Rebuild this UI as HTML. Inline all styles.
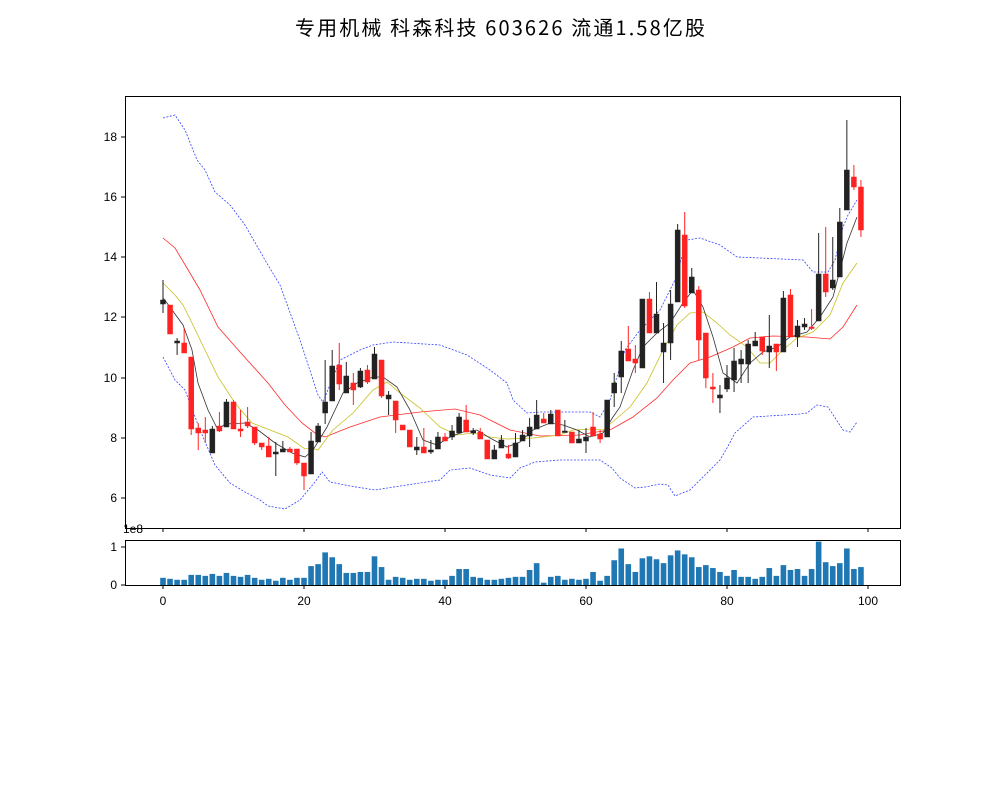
<!DOCTYPE html>
<html><head><meta charset="utf-8"><style>
html,body{margin:0;padding:0;background:#fff;width:1000px;height:800px;overflow:hidden}
svg text{font-family:"Liberation Sans","Noto Sans CJK SC",sans-serif;font-size:12px;fill:#000}
</style></head><body>
<svg id="s" width="1000" height="800" xmlns="http://www.w3.org/2000/svg">
<rect width="1000" height="800" fill="#fff"/>
<text x="500" y="35" text-anchor="middle" textLength="410" lengthAdjust="spacing" style="font-size:20px;font-family:'WenQuanYi Zen Hei','Noto Sans CJK SC',sans-serif">专用机械 科森科技 603626 流通1.58亿股</text>
<g id="g"></g>
<rect x="125.5" y="96.5" width="775" height="432" fill="none" stroke="#000" stroke-width="1"/>
<rect x="125.5" y="540.5" width="775" height="45" fill="none" stroke="#000" stroke-width="1"/>
<g text-anchor="end">
<text x="117" y="502">6</text><text x="117" y="442">8</text><text x="117" y="382">10</text>
<text x="117" y="321">12</text><text x="117" y="261">14</text><text x="117" y="201">16</text><text x="117" y="141">18</text>
<text x="117" y="589">0</text><text x="117" y="551">1</text>
</g>
<text x="123" y="533">1e8</text>
<g text-anchor="middle">
<text x="163" y="605">0</text><text x="304" y="605">20</text><text x="445" y="605">40</text>
<text x="586" y="605">60</text><text x="727" y="605">80</text><text x="868" y="605">100</text>
</g>
</svg>
<script>
var NS="http://www.w3.org/2000/svg",g=document.getElementById('g');
function el(t,a){var e=document.createElementNS(NS,t);for(var k in a)e.setAttribute(k,a[k]);g.appendChild(e);return e;}
var X=function(i){return 163+i*7.05;};
[498,438,378,317,257,197,137].forEach(function(y){el('line',{x1:121,x2:125,y1:y,y2:y,stroke:'#000'});});
[585,547].forEach(function(y){el('line',{x1:121,x2:125,y1:y,y2:y,stroke:'#000'});});
[0,20,40,60,80,100].forEach(function(v){var x=X(v);el('line',{x1:x,x2:x,y1:528,y2:532,stroke:'#000'});el('line',{x1:x,x2:x,y1:585,y2:589,stroke:'#000'});});
function pl(pts,st,w,da){el('polyline',{points:pts,fill:'none',stroke:st,'stroke-width':w,'stroke-dasharray':da||'none'});}
pl("163,118 175,115 185,130 197,160 205,170 215,192 230,205 245,225 265,260 280,285 300,340 318,395 323,402 340,360 360,350 373,345 393,342 440,345 467,355 490,370 507,383 513,400 527,413 540,412 590,412 600,417 610,400 625,350 640,330 660,310 675,280 687,240 700,238 720,245 737,257 760,258 803,260 813,272 828,272 835,260 843,227 848,215 857,200",'#3344ff',0.8,'2,1.5');
pl("163,357 175,380 185,390 200,430 215,465 230,483 245,492 260,500 268,506 285,509 300,500 315,482 322,472 330,482 350,486 375,490 400,486 420,483 440,480 450,470 470,468 490,475 510,478 520,468 535,462 560,460 600,460 612,468 620,478 635,488 645,487 660,484 668,485 675,496 690,490 705,475 720,460 727,448 735,433 753,417 800,414 807,413 817,405 828,407 843,430 850,432 857,422",'#3344ff',0.8,'2,1.5');
pl("163,238 175,248 187,268 200,290 218,327 240,352 268,383 285,405 302,423 315,433 325,437 350,427 380,417 420,412 455,409 480,415 510,430 540,436 580,435 590,433 610,430 633,417 657,398 673,380 690,363 710,357 733,347 750,338 773,336 807,337 830,339 843,327 857,305",'#ff2a2a',0.8);
pl("163,283 175,295 183,305 192,323 218,377 235,403 252,423 288,437 305,449 310,448 318,450 333,430 353,413 373,390 387,382 400,393 420,408 440,427 457,435 473,433 490,437 507,439 533,438 560,435 573,430 593,429 603,430 630,407 647,383 663,350 677,325 690,313 703,312 717,323 730,335 747,347 760,363 770,363 783,350 797,338 813,332 830,315 843,283 857,263",'#c8c020',0.8);
pl("163,298 167,303 183,325 192,350 198,383 208,410 218,430 225,424 245,423 258,430 275,443 292,453 305,457 313,450 327,427 343,393 357,383 373,377 383,377 397,387 410,410 423,440 437,445 450,437 463,432 477,430 490,438 507,447 520,442 533,430 550,423 563,425 577,430 590,437 603,433 613,417 620,407 633,370 643,347 657,333 670,323 683,303 693,290 703,307 713,337 723,373 737,383 750,363 763,352 777,347 790,337 807,332 820,317 833,297 847,243 857,217",'#333',0.8);
var C=[[300,304,280,313,'k'],[305,334,305,334,'r'],[341,343,338,355,'k'],[343,353,328,353,'r'],[357,429,357,435,'r'],[428,433,423,450,'r'],[430,433,417,443,'r'],[429,453,426,453,'k'],[426,431,412,432,'r'],[402,427,399,427,'k'],[402,429,400,429,'r'],[429,431,410,437,'r'],[422,426,407,428,'r'],[427,443,427,445,'r'],[443,447,443,450,'r'],[446,457,437,457,'r'],[452,454,442,476,'k'],[449,452,441,452,'k'],[449,452,447,452,'r'],[449,463,449,465,'r'],[463,476,463,490,'r'],[441,474,432,474,'k'],[426,442,423,442,'k'],[402,413,360,424,'k'],[366,401,350,401,'k'],[365,384,343,390,'r'],[376,393,362,393,'k'],[383,390,373,405,'r'],[371,387,368,388,'k'],[370,382,365,384,'r'],[354,379,347,379,'k'],[360,396,360,398,'r'],[395,399,391,415,'k'],[401,420,401,433,'r'],[425,430,425,430,'r'],[430,447,430,447,'r'],[447,450,437,455,'k'],[447,453,428,453,'r'],[450,452,440,454,'k'],[437,449,432,449,'k'],[437,441,433,441,'r'],[431,437,425,440,'k'],[417,433,413,433,'k'],[420,432,405,432,'r'],[431,433,428,435,'k'],[432,439,428,439,'r'],[440,459,440,459,'r'],[450,459,445,459,'k'],[440,448,435,448,'k'],[454,458,445,459,'r'],[443,457,433,457,'k'],[435,441,430,441,'k'],[427,436,418,447,'k'],[415,429,400,429,'k'],[419,423,413,423,'r'],[414,424,410,424,'k'],[410,436,410,436,'r'],[431,432,420,432,'k'],[432,443,432,443,'r'],[439,443,430,443,'k'],[437,441,428,453,'k'],[427,436,412,436,'r'],[434,439,430,443,'r'],[400,437,400,437,'k'],[383,393,373,407,'k'],[351,377,341,393,'k'],[349,361,326,361,'r'],[359,363,345,373,'r'],[299,368,299,368,'k'],[299,333,292,333,'r'],[314,333,282,333,'k'],[343,352,323,383,'k'],[304,343,290,360,'k'],[230,302,224,302,'k'],[235,306,212,308,'r'],[277,293,268,293,'k'],[290,340,286,360,'r'],[333,378,333,388,'r'],[387,389,373,403,'r'],[395,398,385,413,'k'],[378,389,365,392,'k'],[361,380,348,392,'k'],[359,364,350,383,'k'],[344,364,340,383,'k'],[341,346,332,346,'k'],[337,351,337,355,'r'],[346,352,315,368,'k'],[344,352,344,371,'r'],[298,352,291,352,'k'],[295,337,289,337,'r'],[326,337,320,347,'k'],[324,327,318,330,'k'],[327,328,309,330,'r'],[274,321,233,321,'k'],[274,292,227,297,'r'],[280,288,237,290,'k'],[222,277,208,277,'k'],[170,210,120,210,'k'],[177,187,165,190,'r'],[187,230,180,237,'r']];
C.forEach(function(c,i){var x=X(i),col=c[4]=='k'?'#222':'#ff2222';
el('line',{x1:x,x2:x,y1:c[2],y2:c[3],stroke:col,'stroke-width':1});
el('rect',{x:x-2.5,y:c[0],width:5,height:Math.max(1.5,c[1]-c[0]),fill:col,stroke:col,'stroke-width':0.5});});
var V=[128,131,134,134,119,119,122,116,122,113,122,125,119,128,134,131,137,128,134,128,128,92,86,50,65,86,113,113,110,110,62,95,134,125,128,134,131,131,137,134,134,122,101,101,125,128,134,134,131,128,125,125,104,83,143,125,122,134,131,134,131,110,137,122,74,38,86,110,68,62,71,83,59,44,56,65,95,89,98,110,122,104,125,125,131,125,98,122,89,104,101,122,101,17,80,92,83,38,101,95];
V.forEach(function(t,i){var h=(150-t)*0.326;el('rect',{x:X(i)-2.8,y:585-h,width:5.6,height:h,fill:'#1f77b4'});});
</script>
</body></html>
